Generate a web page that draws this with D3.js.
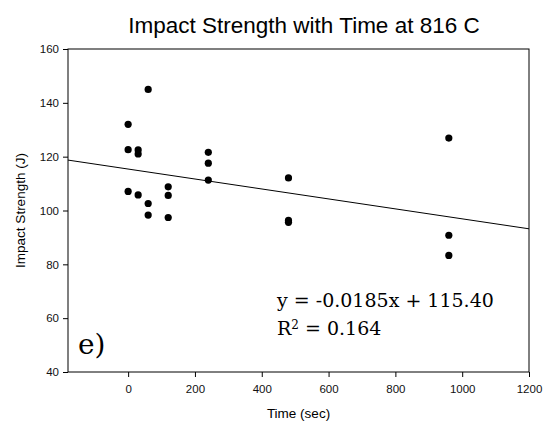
<!DOCTYPE html>
<html>
<head>
<meta charset="utf-8">
<script src="https://cdn.jsdelivr.net/npm/d3@7"></script>
<style>
  body { margin: 0; background: #fff; }
  svg { display: block; }
</style>
</head>
<body>
<svg id="chart"></svg>
<script>
const width = 546;
const height = 427;

// data
const times = [0, 0, 0, 30, 30, 30, 60, 60, 60, 120, 120, 120, 240, 240, 240, 480, 480, 480, 960, 960, 960];
const strength = [132, 122.6, 107.1, 122.5, 121.0, 105.8, 145, 102.6, 98.3, 108.8, 105.6, 97.4,
                  121.6, 117.6, 111.3, 112.1, 96.3, 95.6, 126.9, 90.8, 83.3];
const xTicks = [0, 200, 400, 600, 800, 1000, 1200];
const yTicks = [40, 60, 80, 100, 120, 140, 160];
const slope = -0.0185;
const intercept = 115.40;

const margin = {top: 49, right: 17, bottom: 55, left: 68};
const svg = d3.select('#chart').attr('width', width).attr('height', height);

const x = d3.scaleLinear().domain([-180, 1200]).range([margin.left, width - margin.right]);
const y = d3.scaleLinear().domain([40, 160]).range([height - margin.bottom, margin.top]);

// frame
svg.append('rect')
    .attr('x', x(-180)).attr('y', y(160))
    .attr('width', x(1200) - x(-180)).attr('height', y(40) - y(160))
    .style('fill', 'none').style('stroke', '#000').style('stroke-width', 1);

const xAxis = svg.append('g')
    .attr('transform', `translate(0,${y(40)})`)
    .call(d3.axisBottom(x).tickValues(xTicks).tickFormat(d3.format('d'))
      .tickSize(5).tickSizeOuter(0).tickPadding(8));
const yAxis = svg.append('g')
    .attr('transform', `translate(${x(-180)},0)`)
    .call(d3.axisLeft(y).tickValues(yTicks).tickFormat(d3.format('d'))
      .tickSize(5).tickSizeOuter(0).tickPadding(4));

[xAxis, yAxis].forEach(g => {
  g.select('.domain').remove();
  g.selectAll('line').style('stroke', '#000');
  g.selectAll('text')
      .style('font-family', 'Liberation Sans, Arial, sans-serif')
      .style('font-size', '11.5px')
      .style('fill', '#111');
});

// regression line
svg.append('line')
    .attr('x1', x(-180)).attr('y1', y(slope * -180 + intercept))
    .attr('x2', x(1200)).attr('y2', y(slope * 1200 + intercept))
    .style('stroke', '#000').style('stroke-width', 1);

// points
svg.append('g').selectAll('circle')
    .data(times.map((t, i) => [t, strength[i]]))
    .enter().append('circle')
    .attr('cx', d => x(d[0]))
    .attr('cy', d => y(d[1]))
    .attr('r', 3.6)
    .style('fill', '#000');

// title and axis labels
svg.append('text')
    .attr('x', 304).attr('y', 33)
    .attr('text-anchor', 'middle')
    .style('font-family', 'Liberation Sans, Arial, sans-serif')
    .style('font-size', '22.5px')
    .text('Impact Strength with Time at 816 C');

svg.append('text')
    .attr('x', (x(-180) + x(1200)) / 2).attr('y', 418)
    .attr('text-anchor', 'middle')
    .style('font-family', 'Liberation Sans, Arial, sans-serif')
    .style('font-size', '13.5px')
    .text('Time (sec)');

svg.append('text')
    .attr('transform', `translate(25,${(y(40) + y(160)) / 2}) rotate(-90)`)
    .attr('text-anchor', 'middle')
    .style('font-family', 'Liberation Sans, Arial, sans-serif')
    .style('font-size', '13.5px')
    .text('Impact Strength (J)');

// equation annotation
const eq = svg.append('text')
    .style('font-family', 'DejaVu Serif, serif')
    .style('font-size', '19px');
eq.append('tspan').attr('x', 277).attr('y', 307).text('y = -0.0185x + 115.40');
const r2 = svg.append('text')
    .attr('x', 277).attr('y', 335)
    .style('font-family', 'DejaVu Serif, serif')
    .style('font-size', '19px');
r2.append('tspan').text('R');
r2.append('tspan').attr('dy', -6).style('font-size', '12px').text('2');
r2.append('tspan').attr('dy', 6).text(' = 0.164');

svg.append('text')
    .attr('x', 78).attr('y', 354)
    .style('font-family', 'DejaVu Serif, serif')
    .style('font-size', '28px')
    .text('e)');
</script>
</body>
</html>
